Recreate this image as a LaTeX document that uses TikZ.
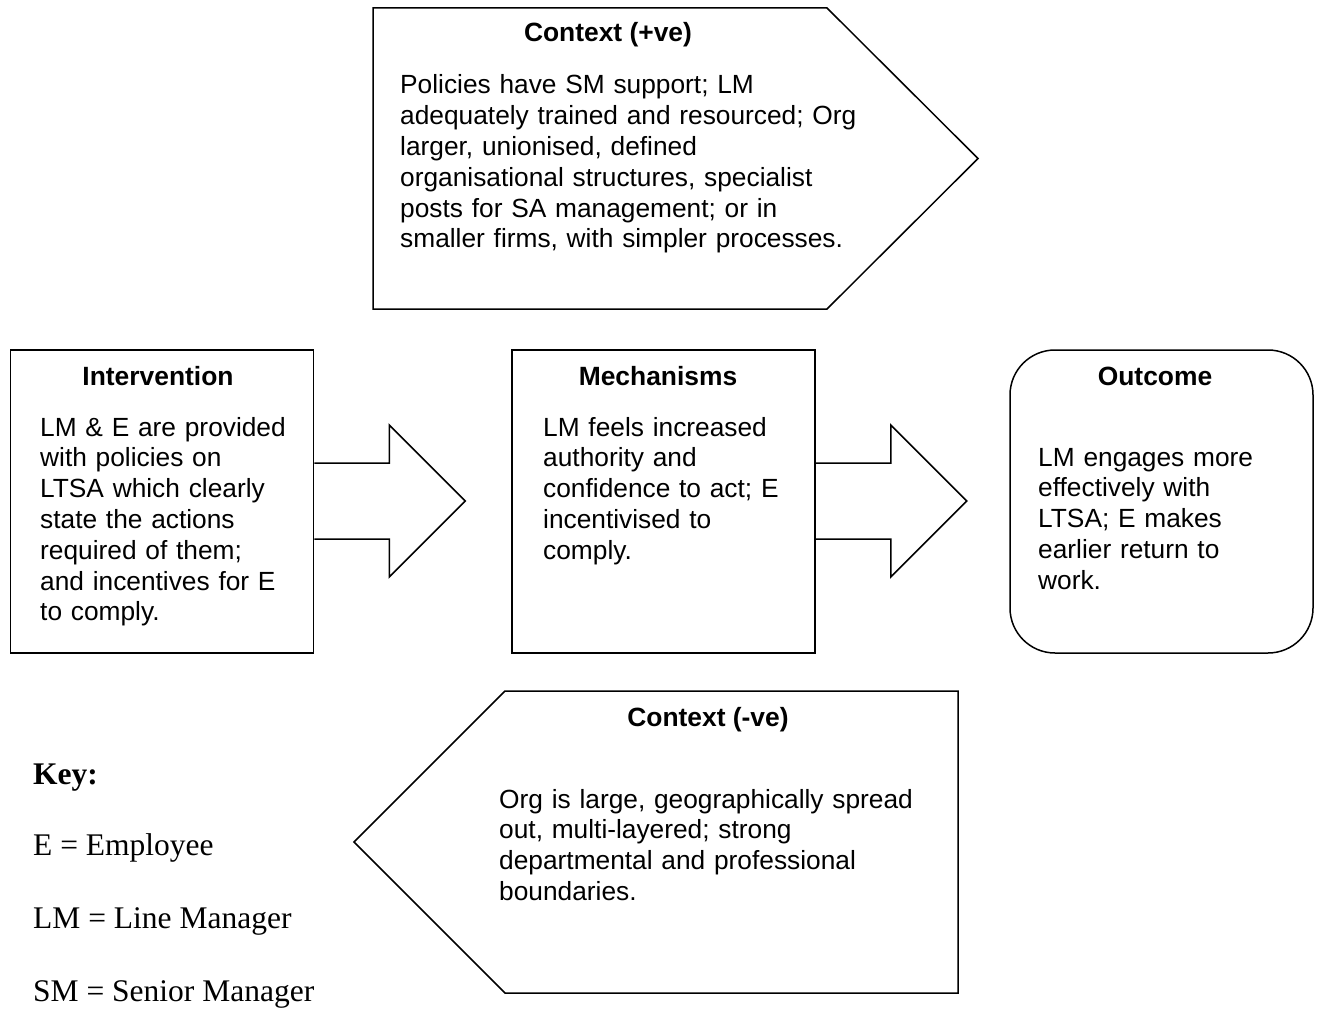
\documentclass[tikz,border=0pt]{standalone}
\usepackage{fontspec}
\setmainfont{Liberation Serif}
\setsansfont{Liberation Sans}
\usepackage{tikz}

\begin{document}
\begin{tikzpicture}[x=1pt, y=-1pt,
    outline/.style={draw, line width=1.5pt, line join=miter},
    panel/.style={outline, minimum width=303pt, minimum height=303pt, inner sep=0pt},
    heading/.style={font=\sffamily\bfseries\fontsize{26.4}{30.8}\selectfont, anchor=base, inner sep=0pt},
    bodytext/.style={font=\sffamily\fontsize{26.3}{30.8}\selectfont, anchor=base west, align=left, text width=560pt, inner sep=0pt},
    keyline/.style={font=\rmfamily\fontsize{31.5}{36}\selectfont, anchor=base west, inner sep=0pt}]
\useasboundingbox (0,0) rectangle (1321,1011);

% Context shapes
\draw[outline] (373,8) -- (827,8) -- (978,158.5) -- (827,309) -- (373,309) -- cycle;
\draw[outline] (354,842) -- (505,691) -- (958,691) -- (958,993) -- (505,993) -- cycle;

% Main boxes
\node[panel] (interv) at (162,501.5) {};
\node[panel] (mech) at (663.5,501.5) {};
\node[panel, rounded corners=45pt] (outcome) at (1161.5,501.5) {};

% Block arrows
\foreach \from in {interv, mech} {
    \draw[outline] ([yshift=38.5pt]\from.east) -- ++(75,0) -- ++(0,-38) -- ++(76,76)
        -- ++(-76,76) -- ++(0,-38) -- ++(-75,0);
}

% Labels
\node[heading] (ctxposhead) at (608,42) {Context (+ve)};
\node[bodytext] (ctxposbody) at (400,94) {Policies have SM support; LM\\
    adequately trained and resourced; Org\\
    larger, unionised, defined\\
    organisational structures, specialist\\
    posts for SA management; or in\\
    smaller firms, with simpler processes.};

\node[heading] (intervhead) at (158,385) {Intervention};
\node[bodytext] (intervbody) at (40,436) {LM \& E are provided\\
    with policies on\\
    LTSA which clearly\\
    state the actions\\
    required of them;\\
    and incentives for E\\
    to comply.};

\node[heading] (mechhead) at (658,385) {Mechanisms};
\node[bodytext] (mechbody) at (543,436) {LM feels increased\\
    authority and\\
    confidence to act; E\\
    incentivised to\\
    comply.};

\node[heading] (outcomehead) at (1155,385) {Outcome};
\node[bodytext] (outcomebody) at (1038,466) {LM engages more\\
    effectively with\\
    LTSA; E makes\\
    earlier return to\\
    work.};

\node[heading] (ctxneghead) at (708,726) {Context (-ve)};
\node[bodytext] (ctxnegbody) at (499,808) {Org is large, geographically spread\\
    out, multi-layered; strong\\
    departmental and professional\\
    boundaries.};

% Key
\node[keyline, font=\rmfamily\bfseries\fontsize{31.5}{36}\selectfont] (keyhead) at (33,784) {Key:};
\foreach \abbr/\full [count=\k] in {E/Employee, LM/Line Manager, SM/Senior Manager} {
    \node[keyline] (key\k) at (33,{782+73*\k}) {\abbr{} = \full};
}
\end{tikzpicture}
\end{document}
